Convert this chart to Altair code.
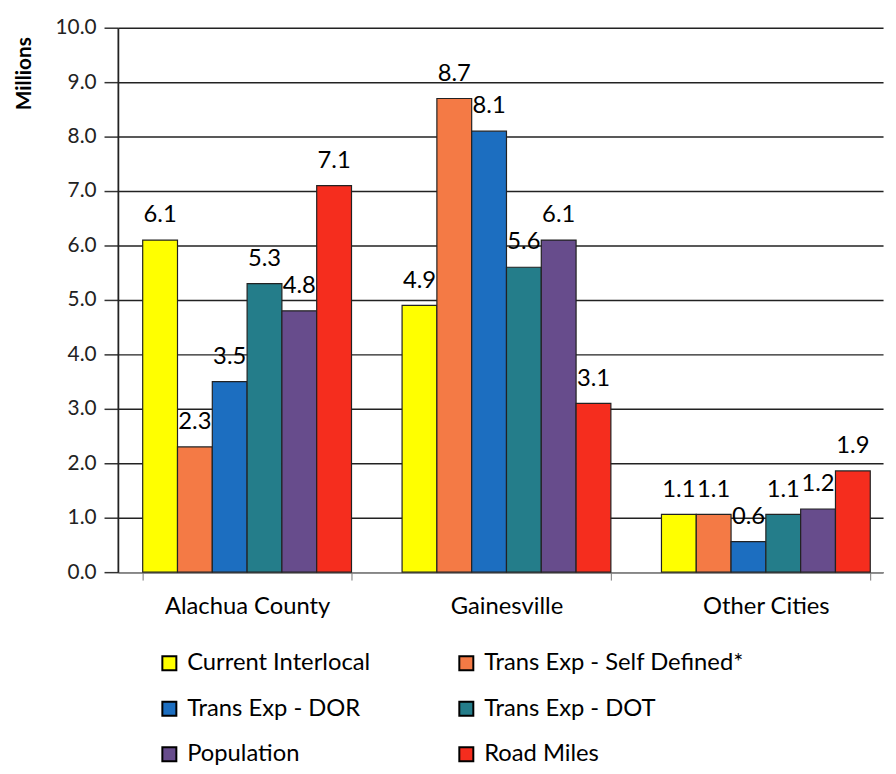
import altair as alt
import pandas as pd

categories = ["Alachua County", "Gainesville", "Other Cities"]
series = ["Current Interlocal", "Trans Exp - Self Defined*", "Trans Exp - DOR",
          "Trans Exp - DOT", "Population", "Road Miles"]
colors = ["#FFFF00", "#F47A45", "#1C6EC0", "#247D8A", "#674C8C", "#F52D1E"]

alachua = [6.1, 2.3, 3.5, 5.3, 4.8, 7.1]
gainesville = [4.9, 8.7, 8.1, 5.6, 6.1, 3.1]
other = [1.06, 1.06, 0.56, 1.06, 1.16, 1.86]

rows = []
for cat, vals in zip(categories, [alachua, gainesville, other]):
    for s, v in zip(series, vals):
        rows.append({"category": cat, "series": s, "value": v})
df = pd.DataFrame(rows)

FONT = "Lato"

x = alt.X("category:N", sort=categories, title=None,
          scale=alt.Scale(paddingInner=0.195, paddingOuter=0.0725, align=0.66),
          axis=alt.Axis(labelAngle=0, labelFontSize=24, labelColor="black",
                        labelPadding=15, domainColor="#999", tickBand="extent",
                        tickColor="#777", tickSize=8, grid=False))
y = alt.Y("value:Q", title="Millions",
          scale=alt.Scale(domain=[0, 10], nice=False),
          axis=alt.Axis(values=list(range(0, 11)), format=".1f", tickSize=14,
                        tickColor="#333", tickWidth=1.5,
                        labelFontSize=21, labelColor="#222", labelPadding=8,
                        domainColor="#222", domainWidth=1.8,
                        grid=True, gridColor="#222", gridWidth=1.5,
                        titleFontSize=21, titleFontWeight="bold", titleColor="black",
                        titleAnchor="end", titleAlign="right", titleBaseline="middle",
                        titleX=-94, titleY=9, titleAngle=-90))

bars = alt.Chart(df).mark_bar(stroke="#222", strokeWidth=1.2).encode(
    x=x, y=y,
    xOffset=alt.XOffset("series:N", sort=series, scale=alt.Scale(paddingInner=0)),
    color=alt.Color("series:N", sort=series,
                    scale=alt.Scale(domain=series, range=colors),
                    legend=alt.Legend(title=None, orient="none", legendX=40, legendY=630,
                                      direction="horizontal", columns=2,
                                      columnPadding=85, rowPadding=22, padding=0,
                                      symbolType="square", symbolSize=200,
                                      symbolStrokeColor="black", symbolStrokeWidth=2,
                                      symbolOpacity=1, labelFontSize=24, labelLimit=400,
                                      labelColor="black", labelOffset=6)),
)

labels = alt.Chart(df).mark_text(dy=-18, baseline="alphabetic", fontSize=24,
                                 color="black", font=FONT).encode(
    x=alt.X("category:N", sort=categories),
    xOffset=alt.XOffset("series:N", sort=series),
    y="value:Q",
    text=alt.Text("value:Q", format=".1f"),
)

chart = (bars + labels).properties(width=773, height=550).configure(
    font=FONT
).configure_view(stroke=None)

chart.save("out.html", embed_options={"renderer": "svg", "actions": False})
